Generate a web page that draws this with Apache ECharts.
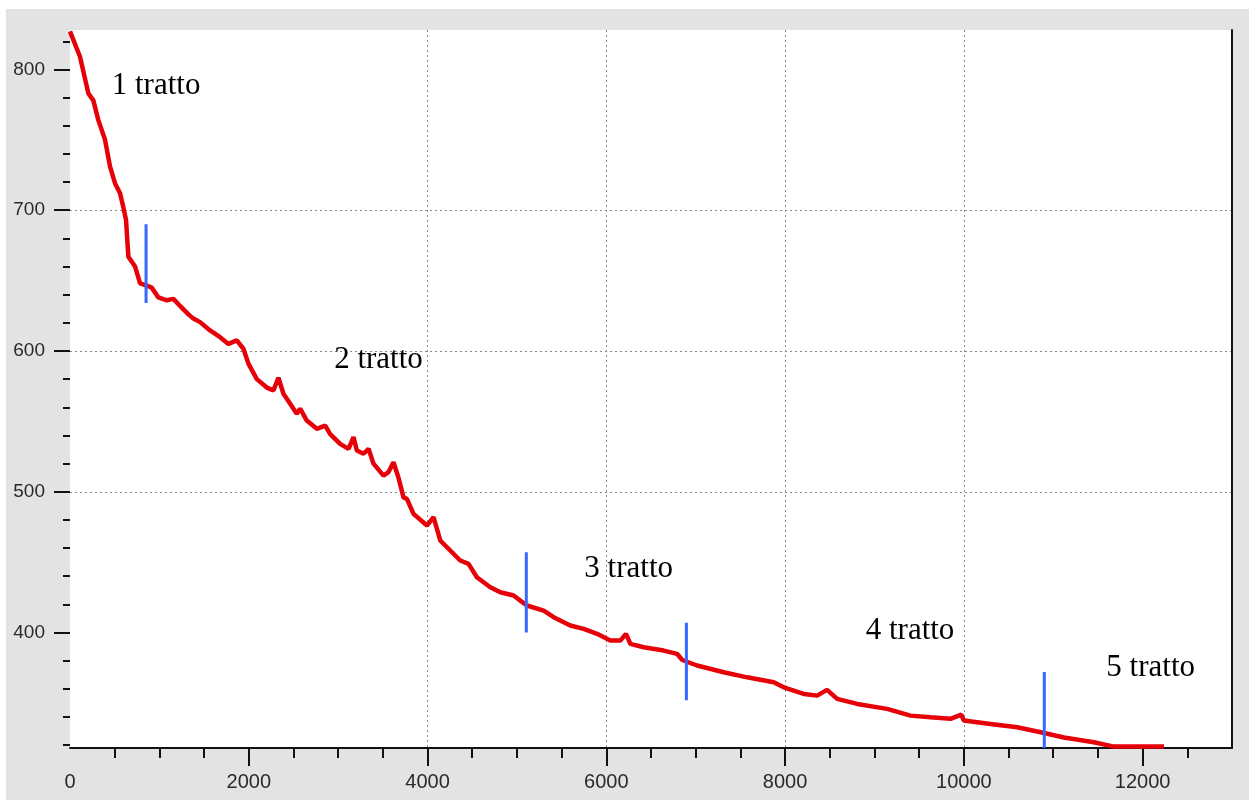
<!DOCTYPE html>
<html><head><meta charset="utf-8">
<script src="https://cdn.jsdelivr.net/npm/echarts@6/dist/echarts.min.js"></script>
<style>
html,body{margin:0;padding:0;background:#fff;width:1249px;height:800px;overflow:hidden}
#c{position:absolute;left:6px;top:9px;width:1243px;height:791px;background:#e3e3e3}
</style>
</head><body><div id="c"></div>
<script>
// Curve (distance vs value)
const curveX = [0,112,205,261,317,392,448,504,560,597,627,653,728,784,858,914,989,1082,1157,1231,1325,1381,1455,1567,1679,1772,1866,1940,1996,2090,2202,2276,2332,2388,2463,2537,2575,2649,2762,2855,2911,3022,3116,3172,3209,3284,3340,3395,3507,3563,3619,3675,3731,3769,3843,3993,4067,4142,4254,4366,4459,4552,4702,4814,4963,5038,5112,5299,5411,5597,5747,5896,6045,6157,6220,6269,6418,6642,6791,6850,7016,7313,7575,7873,7985,8209,8358,8470,8583,8807,9142,9403,9627,9851,9971,10000,10299,10598,10859,11120,11455,11679,12239];
const curveY = [827,809,783,778,764,750,731,719,712,702,693,667,660,648,646.5,645,638,636,637,632,626,623,620.5,614.6,609.8,605,607.5,601.6,591,580,574,572,581,569.6,562.5,555.4,559,550.6,544.7,547,541,534,530.5,538.8,529.3,527,530.5,520,511.5,514,521,510,496,495,484.3,476,482,465.4,458.3,451.2,448.8,439.3,432.2,428.6,426.3,422.7,419.2,415.6,410.9,405,402.6,399.1,394.3,394.3,399.1,392,389.6,387.2,384.9,380.5,376.6,371.8,368.2,364.7,361.1,356.4,355.2,359.3,352.9,349.3,345.8,341,339.8,338.7,341.7,337.5,335.1,332.7,329.2,325.5,322.1,319,319];

// Blue segment boundaries
const boundaryX = [851, 5105, 6896, 10900];
const boundaryTop = [690, 457, 407, 372];
const boundaryBottom = [634, 400, 352, 318];

// Section labels
const tractLabels = ['1 tratto', '2 tratto', '3 tratto', '4 tratto', '5 tratto'];
const tractX = [963, 3451, 6250, 9398, 12090];
const tractY = [788, 593.5, 445.4, 401.3, 375.2];

// Axis ticks
const xTickLabels = [0, 2000, 4000, 6000, 8000, 10000, 12000];
const xMajorTicks = [2000, 4000, 6000, 8000, 10000, 12000];
const yTickLabels = [400, 500, 600, 700, 800];

const chart = echarts.init(document.getElementById('c'));

const series = [{
  type: 'line',
  data: curveX.map((x, i) => [x, curveY[i]]),
  showSymbol: false,
  symbol: 'none',
  lineStyle: { color: '#e60008', width: 4.5 },
  z: 3
}];
boundaryX.forEach((bx, i) => {
  series.push({
    type: 'line',
    data: [[bx, boundaryTop[i]], [bx, boundaryBottom[i]]],
    showSymbol: false,
    symbol: 'none',
    lineStyle: { color: '#3468ff', width: 3 },
    z: 4
  });
});
series.push({
  type: 'scatter',
  symbolSize: 0,
  data: tractX.map((x, i) => ({ value: [x, tractY[i]], name: tractLabels[i] })),
  label: {
    show: true,
    formatter: '{b}',
    position: 'inside',
    fontFamily: 'Liberation Serif',
    fontSize: 31,
    color: '#000000',
    textBorderWidth: 0,
    opacity: 1
  },
  z: 5
});

const tickStyle = { color: '#111', width: 2 };
const gridLine = { color: '#8a8a8a', width: 1, type: [2, 3] };

chart.setOption({
  animation: false,
  grid: { left: 64, top: 21, right: 17, bottom: 52, show: true, backgroundColor: '#fff', borderWidth: 0 },
  xAxis: {
    type: 'value', min: 0, max: 13000, interval: 2000,
    axisLine: { show: true, onZero: false, lineStyle: { color: '#111', width: 2 } },
    axisTick: { show: true, length: 18, lineStyle: tickStyle, customValues: xMajorTicks },
    minorTick: { show: true, splitNumber: 4, length: 10, lineStyle: tickStyle },
    axisLabel: {
      customValues: xTickLabels, margin: 24, fontSize: 20, color: '#2a2a2a', fontFamily: 'Liberation Sans',
      formatter: v => xTickLabels.includes(v) ? String(v) : ''
    },
    splitLine: { show: true, lineStyle: gridLine, showMinLine: false, showMaxLine: false }
  },
  yAxis: [{
    type: 'value', min: 318, max: 828, splitNumber: 5,
    axisLine: { show: true, lineStyle: { color: 'rgba(0,0,0,0)' } },
    axisTick: { show: true, length: 16, lineStyle: tickStyle, customValues: yTickLabels },
    minorTick: { show: true, splitNumber: 5, length: 7, lineStyle: tickStyle },
    axisLabel: {
      customValues: yTickLabels, margin: 25, fontSize: 19, color: '#2a2a2a', fontFamily: 'Liberation Sans',
      formatter: v => yTickLabels.includes(v) ? String(v) : ''
    },
    splitLine: { show: true, lineStyle: gridLine, showMinLine: false, showMaxLine: false }
  }, {
    type: 'value', min: 318, max: 828, position: 'right',
    axisLine: { show: true, lineStyle: { color: '#111', width: 2 } },
    axisTick: { show: false }, axisLabel: { show: false }, splitLine: { show: false }
  }],
  series: series
});
</script>
</body></html>
